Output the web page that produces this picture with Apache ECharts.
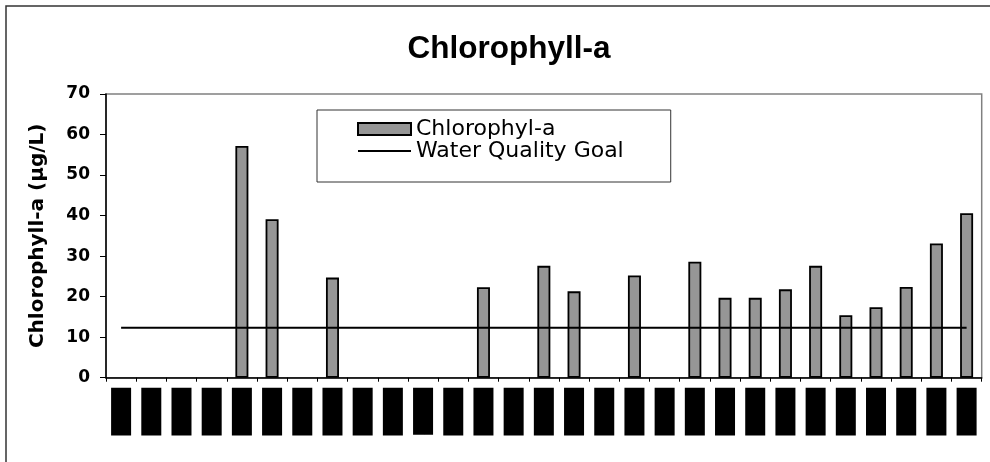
<!DOCTYPE html>
<html><head><meta charset="utf-8">
<script src="https://cdn.jsdelivr.net/npm/echarts@6/dist/echarts.min.js"></script>
<style>html,body{margin:0;padding:0;background:#fff}#c{width:990px;height:462px}</style>
</head><body><div id="c"></div>
<script>
// Category labels are redacted in the reference (drawn as black boxes)
const categories = ['Sample 01','Sample 02','Sample 03','Sample 04','Sample 05','Sample 06','Sample 07','Sample 08','Sample 09','Sample 10',
  'Sample 11','Sample 12','Sample 13','Sample 14','Sample 15','Sample 16','Sample 17','Sample 18','Sample 19','Sample 20',
  'Sample 21','Sample 22','Sample 23','Sample 24','Sample 25','Sample 26','Sample 27','Sample 28','Sample 29'];
const chlorophyll = [null,null,null,null,57.2,39.1,null,24.7,null,null,null,null,22.3,null,27.6,21.3,null,25.2,null,28.6,19.7,19.7,21.8,27.6,15.4,17.4,22.4,33.1,40.6];
const goal = [12.3,12.3,12.3,12.3,12.3,12.3,12.3,12.3,12.3,12.3,12.3,12.3,12.3,12.3,12.3,12.3,12.3,12.3,12.3,12.3,12.3,12.3,12.3,12.3,12.3,12.3,12.3,12.3,12.3];
const yMin = 0, yMax = 70, yStep = 10;
const titleText = 'Chlorophyll-a';
const yName = 'Chlorophyll-a (µg/L)';
const barName = 'Chlorophyl-a';
const lineName = 'Water Quality Goal';

const chart = echarts.init(document.getElementById('c'), null, {renderer: 'canvas'});
chart.setOption({
  animation: false,
  backgroundColor: '#fff',
  title: {
    text: titleText, left: 504, top: 28, textAlign: 'center',
    textStyle: {fontFamily: 'Liberation Sans', fontWeight: 'bold', fontSize: 31.5, color: '#000'}
  },
  graphic: [{
    type: 'rect', shape: {x: 6, y: 6, width: 1100, height: 1000},
    style: {fill: 'none', stroke: '#333', lineWidth: 1.5}, z: -1, silent: true
  }],
  legend: {
    orient: 'vertical', left: 317, top: 110,
    padding: [8, 47, 20, 40], itemGap: 0, itemWidth: 53, itemHeight: 12, itemTextGap: 3,
    borderColor: '#333', borderWidth: 1, backgroundColor: '#fff',
    textStyle: {fontFamily: 'DejaVu Sans', fontSize: 22, color: '#000', lineHeight: 22},
    data: [
      {name: barName, icon: 'rect'},
      {name: lineName, icon: 'path://M0,0 L53,0 L53,2 L0,2 Z', itemStyle: {color: '#000', borderWidth: 0}}
    ]
  },
  grid: {left: 106, top: 94, right: 8.3, bottom: 84.3, show: true, borderColor: '#808080', borderWidth: 1.5, containLabel: false},
  xAxis: {
    type: 'category', data: categories, boundaryGap: true,
    axisLine: {lineStyle: {color: '#000', width: 1.5}},
    axisTick: {show: true, length: 4, lineStyle: {color: '#000', width: 1}},
    axisLabel: {
      interval: 0, rotate: 90, margin: 10, color: '#000', backgroundColor: '#000',
      fontFamily: 'Liberation Sans', fontSize: 10, lineHeight: 14, padding: [3, 0]
    },
    splitLine: {show: false}
  },
  yAxis: {
    type: 'value', min: yMin, max: yMax, interval: yStep,
    name: yName, nameLocation: 'middle', nameGap: 58,
    nameTextStyle: {fontFamily: 'DejaVu Sans', fontWeight: 'bold', fontSize: 20, color: '#000'},
    axisLine: {show: true, lineStyle: {color: '#000', width: 1.5}},
    axisTick: {show: true, length: 6, lineStyle: {color: '#000', width: 1}},
    axisLabel: {margin: 16, fontFamily: 'DejaVu Sans', fontWeight: 'bold', fontSize: 17, color: '#000'},
    splitLine: {show: false}
  },
  series: [
    {
      name: barName, type: 'bar', data: chlorophyll, barWidth: 13,
      itemStyle: {color: '#969696', borderColor: '#000', borderWidth: 1.8}, z: 2
    },
    {
      name: lineName, type: 'line', data: goal, symbol: 'none', showSymbol: false,
      lineStyle: {color: '#000', width: 2}, itemStyle: {color: '#000'}, z: 3
    }
  ]
});
</script></body></html>
